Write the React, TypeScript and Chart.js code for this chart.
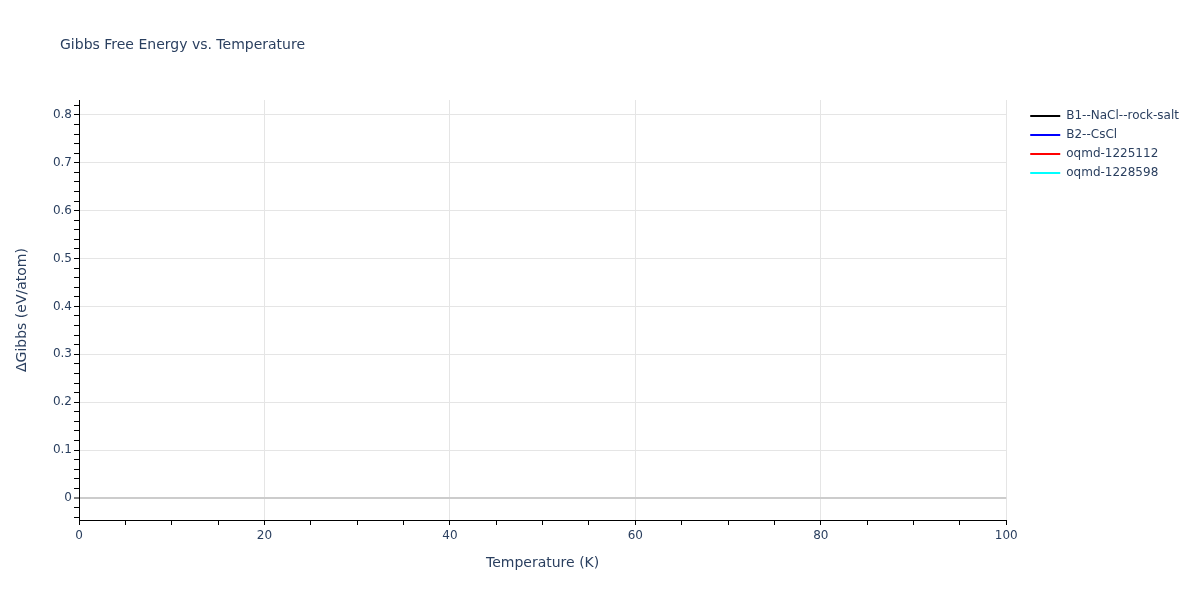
import { useEffect, useRef } from "react";
import { Chart, registerables } from "chart.js";

Chart.register(...registerables);

// temperatures (K) and ΔGibbs (eV/atom); no points fall inside the plotted window
const temperatures: number[] = [];
const b1RockSalt: number[] = [];
const b2CsCl: number[] = [];
const oqmd1225112: number[] = [];
const oqmd1228598: number[] = [];

const seriesNames = ["B1--NaCl--rock-salt", "B2--CsCl", "oqmd-1225112", "oqmd-1228598"];
const seriesColors = ["#000000", "#0000ff", "#ff0000", "#00ffff"];

// every 5 K a tick, every 20 K a label
const xTicks = [0, 5, 10, 15, 20, 25, 30, 35, 40, 45, 50, 55, 60, 65, 70, 75, 80, 85, 90, 95, 100];
const xLabels = [0, 20, 40, 60, 80, 100];
// every 0.02 a tick, every 0.1 a label
const yTicks = [
  -0.04, -0.02, 0, 0.02, 0.04, 0.06, 0.08, 0.1, 0.12, 0.14, 0.16, 0.18, 0.2, 0.22, 0.24, 0.26, 0.28,
  0.3, 0.32, 0.34, 0.36, 0.38, 0.4, 0.42, 0.44, 0.46, 0.48, 0.5, 0.52, 0.54, 0.56, 0.58, 0.6, 0.62,
  0.64, 0.66, 0.68, 0.7, 0.72, 0.74, 0.76, 0.78, 0.8, 0.82,
];
const yLabels = [0, 0.1, 0.2, 0.3, 0.4, 0.5, 0.6, 0.7, 0.8];

const TEXT = "#2a3f5f";
const FONT = "'DejaVu Sans', Verdana, sans-serif";

const isLabel = (list: number[], v: number) => list.some((l) => Math.abs(l - v) < 1e-6);

const plotTitle = {
  id: "plotTitle",
  afterDraw(chart: Chart) {
    const { ctx } = chart;
    ctx.save();
    ctx.font = `14px ${FONT}`;
    ctx.fillStyle = TEXT;
    ctx.textBaseline = "middle";
    ctx.fillText("Gibbs Free Energy vs. Temperature", 60, 45);
    ctx.restore();
  },
};

// push the legend a bit further right of (and below) the plot's corner, as plotly does
const legendShift = {
  id: "legendShift",
  afterLayout(chart: Chart) {
    const lg: any = (chart as any).legend;
    if (!lg) return;
    lg.left += 17;
    lg.right += 17;
    lg.top += 3;
  },
};

export default function App() {
  const canvasRef = useRef<HTMLCanvasElement>(null);
  const chartRef = useRef<Chart | null>(null);

  useEffect(() => {
    document.body.style.margin = "0";
    const ctx = canvasRef.current?.getContext("2d");
    if (!ctx) return;

    const series = [b1RockSalt, b2CsCl, oqmd1225112, oqmd1228598];

    chartRef.current?.destroy();
    chartRef.current = new Chart(ctx, {
      type: "line",
      data: {
        datasets: series.map((vals, i) => ({
          label: seriesNames[i],
          data: vals.map((y, j) => ({ x: temperatures[j], y })),
          borderColor: seriesColors[i],
          backgroundColor: seriesColors[i],
          borderWidth: 2,
          pointRadius: 0,
          fill: false,
        })),
      },
      plugins: [plotTitle, legendShift],
      options: {
        animation: false,
        responsive: false,
        maintainAspectRatio: false,
        layout: { padding: { top: 100, bottom: 24, left: 10, right: 28 } },
        plugins: {
          title: { display: false },
          tooltip: { enabled: false },
          legend: {
            position: "right",
            align: "start",
            labels: {
              boxWidth: 30,
              boxHeight: 2,
              padding: 7,
              color: TEXT,
              font: { family: FONT, size: 12 },
              generateLabels: (chart) =>
                chart.data.datasets.map((d, i) => ({
                  text: d.label as string,
                  fillStyle: seriesColors[i],
                  strokeStyle: seriesColors[i],
                  lineWidth: 0,
                  fontColor: TEXT,
                  datasetIndex: i,
                  hidden: false,
                })),
            },
          },
        },
        scales: {
          x: {
            type: "linear",
            min: 0,
            max: 100,
            afterBuildTicks: (axis) => {
              axis.ticks = xTicks.map((v) => ({ value: v }));
            },
            afterFit: (scale) => {
              scale.height = 56;
            },
            ticks: {
              autoSkip: false,
              maxRotation: 0,
              padding: 4,
              color: TEXT,
              font: { family: FONT, size: 12 },
              callback: (v) => (isLabel(xLabels, Number(v)) ? String(v) : ""),
            },
            grid: {
              color: (c) => (isLabel(xLabels, c.tick.value) ? "#e5e5e5" : "rgba(0,0,0,0)"),
              tickColor: "#000000",
              tickLength: 5,
              lineWidth: 1,
            },
            border: { color: "#000000", width: 1 },
            title: {
              display: true,
              text: "Temperature (K)",
              color: TEXT,
              font: { family: FONT, size: 14 },
              padding: { top: 4, bottom: 4 },
            },
          },
          y: {
            type: "linear",
            min: -0.046,
            max: 0.831,
            afterBuildTicks: (axis) => {
              axis.ticks = yTicks.map((v) => ({ value: v }));
            },
            afterFit: (scale) => {
              scale.width = 69;
            },
            ticks: {
              autoSkip: false,
              padding: 2,
              color: TEXT,
              font: { family: FONT, size: 12 },
              callback: (v) => (isLabel(yLabels, Number(v)) ? String(Math.round(Number(v) * 10) / 10) : ""),
            },
            grid: {
              color: (c) => {
                const v = c.tick.value;
                if (Math.abs(v) < 1e-6) return "#cccccc";
                return isLabel(yLabels, v) ? "#e5e5e5" : "rgba(0,0,0,0)";
              },
              lineWidth: (c) => (Math.abs(c.tick.value) < 1e-6 ? 2 : 1),
              tickColor: "#000000",
              tickWidth: 1,
              tickLength: 5,
            },
            border: { color: "#000000", width: 1 },
            title: {
              display: true,
              text: "ΔGibbs (eV/atom)",
              color: TEXT,
              font: { family: FONT, size: 14 },
              padding: { top: 4, bottom: 4 },
            },
          },
        },
      },
    });

    return () => {
      chartRef.current?.destroy();
      chartRef.current = null;
    };
  }, []);

  return (
    <div style={{ width: 1200, height: 600, position: "relative" }}>
      <canvas ref={canvasRef} width={1200} height={600} />
    </div>
  );
}
